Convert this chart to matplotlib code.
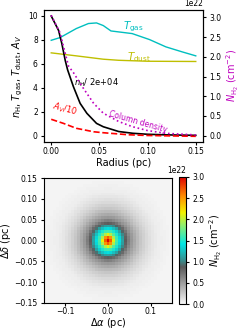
import numpy as np
import matplotlib
matplotlib.use("Agg")
import matplotlib.pyplot as plt
from matplotlib.colors import LinearSegmentedColormap

# radial profiles
r_nh = [0.0, 0.0076, 0.011, 0.0145, 0.017, 0.023, 0.030, 0.037, 0.047, 0.054, 0.07, 0.085, 0.1, 0.12, 0.15]
nh = [10.0, 8.8, 7.7, 6.3, 5.5, 4.1, 2.7, 1.87, 1.03, 0.75, 0.35, 0.2, 0.12, 0.07, 0.03]

r_tgas = [0.0, 0.0093, 0.026, 0.0386, 0.047, 0.054, 0.062, 0.084, 0.102, 0.119, 0.136, 0.15]
tgas = [7.97, 8.2, 8.95, 9.37, 9.42, 9.2, 8.75, 8.53, 8.03, 7.42, 7.0, 6.67]

r_tdust = [0.0, 0.026, 0.054, 0.07, 0.1, 0.15]
tdust = [6.92, 6.67, 6.39, 6.3, 6.22, 6.2]

r_av = [0.0, 0.0127, 0.026, 0.044, 0.054, 0.08, 0.1, 0.15]
av = [1.37, 1.03, 0.62, 0.33, 0.25, 0.08, 0.02, -0.05]

r_col = [0.0, 0.0093, 0.0127, 0.018, 0.023, 0.032, 0.044, 0.054, 0.07, 0.084, 0.1, 0.119, 0.15]
coldens = [3.05, 2.6, 2.26, 1.76, 1.6, 1.25, 0.82, 0.57, 0.36, 0.23, 0.13, 0.06, 0.02]  # 1e22 cm^-2

plt.rcParams['font.size'] = 5.5
plt.rcParams['xtick.major.size'] = 2.5
plt.rcParams['ytick.major.size'] = 2.5
plt.rcParams['xtick.major.pad'] = 1.5
plt.rcParams['ytick.major.pad'] = 2
fig = plt.figure(figsize=(2.48, 3.30), dpi=100)

# =================== radial profiles =====================
ax = fig.add_axes([44/248, (330-141.7)/330, 159/248, 131.7/330])
ax.plot(r_tgas, tgas, 'c-', lw=1.0)
ax.plot(r_tdust, tdust, 'y-', lw=1.0)
ax.plot(r_nh, nh, 'k-', lw=1.2)
ax.plot(r_av, av, 'r--', lw=1.2)
ax.set_xlim(-0.0075, 0.1575)
ax.set_ylim(-0.5, 10.5)
ax.set_xticks([0, 0.05, 0.10, 0.15])
ax.set_yticks([0, 2, 4, 6, 8, 10])
ax.set_xlabel('Radius (pc)', fontsize=7, labelpad=1)
ax.set_ylabel(r'$n_{\rm H}$, $T_{\rm gas}$, $T_{\rm dust}$, $A_V$', fontsize=7, labelpad=2)
ax.text(0.074, 9.1, r'$T_{\rm gas}$', color='c', fontsize=7.5, va='center')
ax.text(0.079, 6.6, r'$T_{\rm dust}$', color='y', fontsize=7.5, va='center')
ax.text(0.024, 4.4, r'$n_{\rm H}$/ 2e+04', color='k', fontsize=6, va='center')
ax.text(0.0, 2.2, r'$A_V$/10', color='r', fontsize=6, va='center', rotation=-15)

ax2 = ax.twinx()
ax2.plot(r_col, np.array(coldens)*1e22, 'm:', lw=1.2)
ax2.set_ylim(-0.152e22, 3.185e22)
ax2.set_yticks([0, 0.5e22, 1e22, 1.5e22, 2e22, 2.5e22, 3e22])
ax2.set_ylabel(r'$N_{\rm H_2}$ (cm$^{-2}$)', color='m', fontsize=7, labelpad=2)
ax2.text(0.090, 0.35e22, 'Column density', color='m', fontsize=5.5,
         ha='center', va='center', rotation=-16)

# =================== column density map =====================
npix = 43
xx = np.linspace(-0.15, 0.15, npix)
X, Y = np.meshgrid(xx, xx)
R = np.sqrt(X**2 + Y**2)
cmap_img = np.interp(R, r_col, coldens)

cmap = LinearSegmentedColormap.from_list('grayjet', [
    (0.0, '#f7f7f7'), (0.29, '#5a5a5a'), (0.34, '#3a8c8c'), (0.47, '#00e6e6'),
    (0.62, '#8fef70'), (0.72, '#f2f200'), (0.85, '#ff8c00'), (1.0, '#dd0000')])

bx = fig.add_axes([44/248, (330-303)/330, 128/248, 125/330])
im = bx.imshow(cmap_img*1e22, origin='lower', extent=[-0.15, 0.15, -0.15, 0.15],
               cmap=cmap, vmin=0, vmax=3e22, interpolation='nearest', aspect='auto')
bx.set_xticks([-0.1, 0.0, 0.1])
bx.set_yticks([-0.15, -0.10, -0.05, 0.0, 0.05, 0.10, 0.15])
bx.tick_params(axis='x', length=2, pad=1)
bx.set_xlabel(r'$\Delta\alpha$ (pc)', fontsize=7, labelpad=0)
bx.set_ylabel(r'$\Delta\delta$ (pc)', fontsize=7, labelpad=1)

cax = fig.add_axes([179/248, (330-304)/330, 7/248, 127/330])
cb = fig.colorbar(im, cax=cax)
cb.set_ticks([0, 0.5e22, 1e22, 1.5e22, 2e22, 2.5e22, 3e22])
cb.set_label(r'$N_{\rm H_2}$ (cm$^{-2}$)', fontsize=7, labelpad=2)

fig.savefig('out.png', dpi=100)
